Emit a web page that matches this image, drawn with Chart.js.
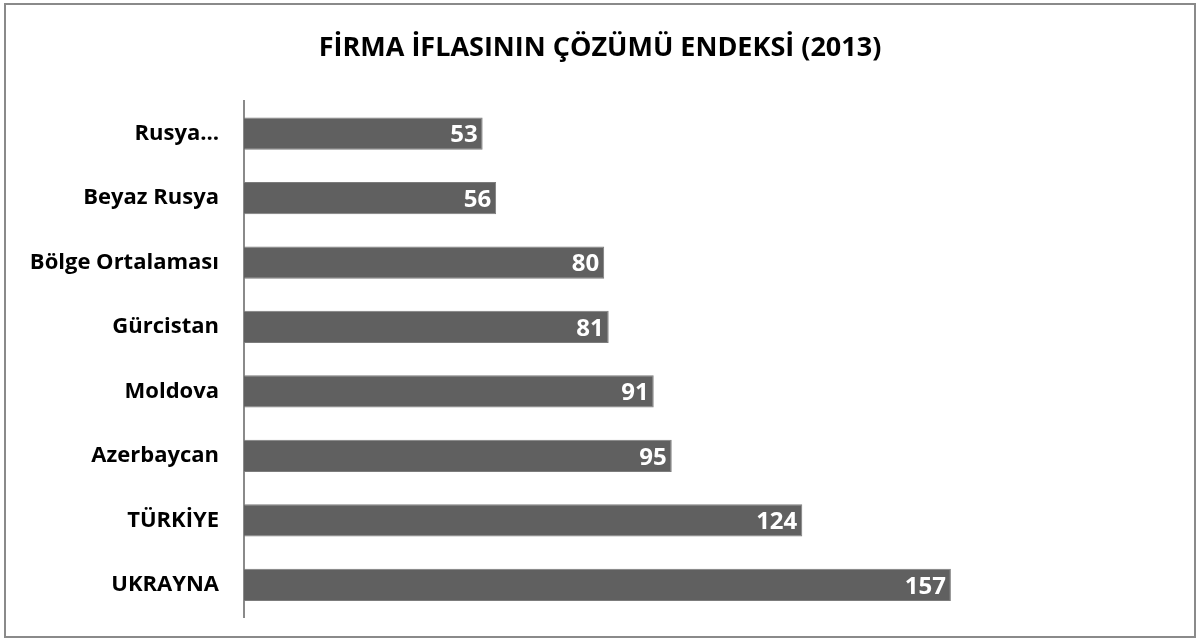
<!DOCTYPE html>
<html lang="tr">
<head>
<meta charset="UTF-8">
<title>Firma İflasının Çözümü Endeksi</title>
<script src="https://cdn.jsdelivr.net/npm/chart.js"></script>
<style>
  html, body { margin: 0; padding: 0; background: #fff; }
  .frame {
    position: absolute; left: 4px; top: 3px;
    width: 1188px; height: 631px;
    border: 2px solid #8a8a8a;
  }
  canvas { display: block; }
</style>
</head>
<body>
<div class="frame">
  <canvas id="chart" width="1188" height="631"></canvas>
</div>
<script>
  // values
  const categories = ['Rusya…', 'Beyaz Rusya', 'Bölge Ortalaması', 'Gürcistan', 'Moldova', 'Azerbaycan', 'TÜRKİYE', 'UKRAYNA'];
  const indexValues = [53, 56, 80, 81, 91, 95, 124, 157];
  const chartTitle = 'FİRMA İFLASININ ÇÖZÜMÜ ENDEKSİ (2013)';

  const FONT = '"Open Sans", Lato, sans-serif';

  // white value labels at the end of each bar
  const barLabels = {
    id: 'barLabels',
    afterDatasetsDraw(chart) {
      const ctx = chart.ctx;
      const meta = chart.getDatasetMeta(0);
      ctx.save();
      ctx.font = 'bold 24px ' + FONT;
      ctx.fillStyle = '#ffffff';
      ctx.textAlign = 'right';
      ctx.textBaseline = 'middle';
      meta.data.forEach((bar, i) => {
        ctx.fillText(String(indexValues[i]), bar.x - 5, bar.y + 2);
      });
      ctx.restore();
    }
  };

  new Chart(document.getElementById('chart'), {
    type: 'bar',
    data: {
      labels: categories,
      datasets: [{
        data: indexValues,
        backgroundColor: '#606060',
        borderColor: '#7c7c7c',
        borderWidth: 1,
        barPercentage: 0.5,
        categoryPercentage: 1
      }]
    },
    options: {
      indexAxis: 'y',
      responsive: false,
      animation: false,
      layout: { padding: { left: 0, right: 0, top: 0, bottom: 19 } },
      plugins: {
        legend: { display: false },
        tooltip: { enabled: false },
        title: {
          display: true,
          text: chartTitle,
          color: '#000',
          font: { family: FONT, size: 27, weight: 'bold' },
          padding: { top: 27, bottom: 37 }
        }
      },
      scales: {
        x: { display: false, min: 0, max: 211 },
        y: {
          afterFit(scale) {
            scale.width = 238;
            scale.paddingTop = 0;
            scale.paddingBottom = 0;
          },
          grid: { display: false, drawTicks: false },
          border: { display: true, color: '#8a8a8a', width: 2 },
          ticks: {
            padding: 25,
            color: '#000',
            font: { family: FONT, size: 22, weight: 'bold' }
          }
        }
      }
    },
    plugins: [barLabels]
  });
</script>
</body>
</html>
